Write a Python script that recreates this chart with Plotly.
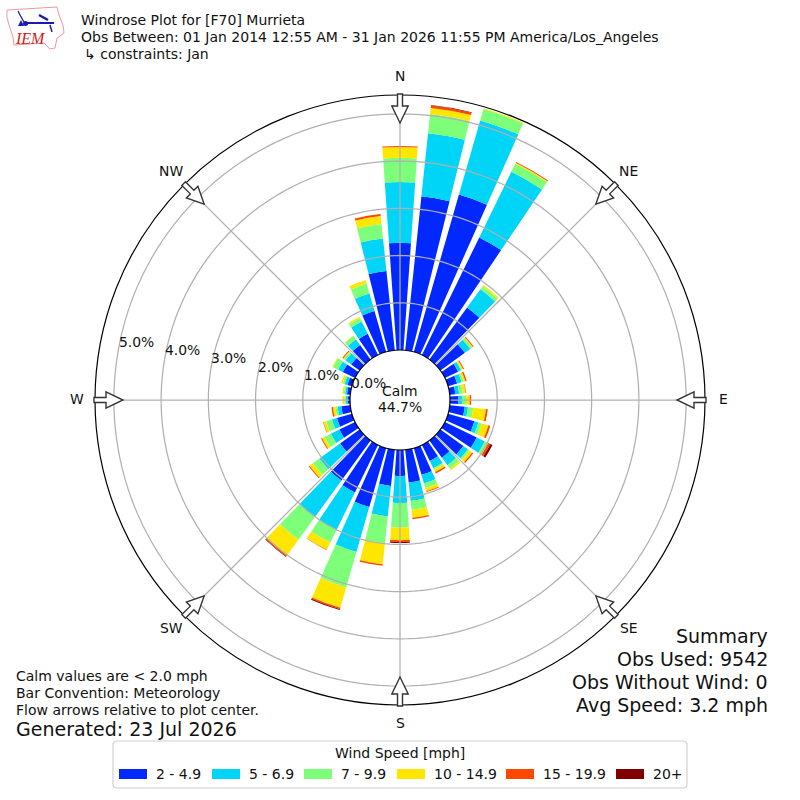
import numpy as np
import plotly.graph_objects as go

directions = list(range(0, 360, 10))
speed_2_5 = [2.27, 3.28, 3.47, 2.77, 1.36, .64, .31, .20, .12, .18, .32, .58, .75, .60, .45, .38, .59, .70,
             .55, .77, 1.30, 1.12, 1.05, .51, .37, .33, .19, .05, .07, .10, .29, .22, .38, .50, .90, 1.69]
speed_5_7 = [1.29, 1.34, 1.63, 1.55, .48, .14, .07, .10, .08, .08, .07, .09, .19, .12, .20, .17, .19, .39,
             .57, .65, .99, .88, .95, .54, .20, .11, .08, .04, .04, .06, .11, .15, .15, .29, .39, .69]
speed_7_10 = [.51, .41, .25, .19, .08, .05, .02, .04, .08, .08, .11, .07, .06, .04, .09, .03, .10, .19,
              .52, .57, .78, .30, .60, .17, .15, .13, .05, .03, .03, .04, .12, .04, .09, .08, .21, .31]
speed_10_15 = [.23, .13, .02, .02, .03, .02, .03, .04, .06, .08, .27, .15, .02, .07, .04, .06, .07, .17,
               .27, .45, .45, .17, .41, .09, .06, .06, .05, .04, .03, .04, .02, .02, .01, .03, .08, .17]
speed_15_20 = [.02, .05, 0, .02, 0, .02, .02, .03, .01, .03, .04, .04, .05, .03, 0, .03, .02, .03,
               .04, .03, .03, .01, .03, .02, .02, .01, .03, 0, 0, 0, 0, .02, 0, 0, 0, .04]
speed_20 = [0, .01, 0, 0, 0, 0, 0, 0, 0, 0, 0, 0, .05, 0, 0, 0, 0, 0,
            .02, 0, .02, 0, .01, 0, 0, 0, 0, 0, 0, 0, 0, 0, 0, 0, 0, 0]

series = [speed_2_5, speed_5_7, speed_7_10, speed_10_15, speed_15_20, speed_20]
labels = ["2 - 4.9", "5 - 6.9", "7 - 9.9", "10 - 14.9", "15 - 19.9", "20+"]
colors = ["#0028ff", "#00d5f7", "#7dff7a", "#ffe600", "#ff4700", "#800000"]
legend_x = [119, 212, 304, 397, 506, 616]

ring_ticks = [1, 2, 3, 4, 5]
radial_ticks = [0, 1, 2, 3, 4, 5]
compass_names = ["N", "NE", "E", "SE", "S", "SW", "W", "NW"]
compass_angles = [0, 45, 90, 135, 180, 225, 270, 315]

RMAX = 5.4
CX, CY, R = 400, 400, 305
GRID = "#b0b0b0"
LOGO_BLUE = "#1a1ab0"


def px(x):
    return x / 800


def py(y):
    return 1 - y / 800


def note(x, y, text, size=13.9, anchor="left"):
    # annotations carry about 2px of padding
    shift = {"left": -2, "right": 2, "center": 0}[anchor]
    return dict(x=px(x + shift), y=py(y), xref="paper", yref="paper", text=text, showarrow=False,
                xanchor=anchor, yanchor="middle", align=anchor,
                font=dict(family="DejaVu Sans", size=size, color="#111111"))


def paper_path(points, close=True):
    parts = [f"{px(x):.5f},{py(y):.5f}" for x, y in points]
    return "M" + "L".join(parts) + ("Z" if close else "")


fig = go.Figure()
for name, vals, col in zip(labels, series, colors):
    fig.add_trace(go.Barpolar(r=vals, theta=directions, width=8, name=name,
                              marker=dict(color=col, line=dict(width=0)), hoverinfo="skip"))

# the grid sits over the bars in the original, so it is drawn as traces
ring_theta = np.arange(0, 361, 2)
for t in ring_ticks:
    fig.add_trace(go.Scatterpolar(r=[t] * len(ring_theta), theta=ring_theta, mode="lines",
                                  line=dict(color=GRID, width=1.25), hoverinfo="skip", showlegend=False))
for a in compass_angles:
    fig.add_trace(go.Scatterpolar(r=[0, RMAX], theta=[a, a], mode="lines",
                                  line=dict(color=GRID, width=1.25), hoverinfo="skip", showlegend=False))

annotations = []
shapes = []

# flow arrows pointing to the center
arrow = [(-2.5, 306), (-2.5, 294), (-8.2, 294), (0, 277), (8.2, 294), (2.5, 294), (2.5, 306)]
for a, name in zip(compass_angles, compass_names):
    s, c = np.sin(np.radians(a)), np.cos(np.radians(a))
    pts = [(CX + r * s + w * c, CY - r * c + w * s) for w, r in arrow]
    shapes.append(dict(type="path", xref="paper", yref="paper", path=paper_path(pts),
                       fillcolor="white", line=dict(color="#333333", width=1.4), layer="above"))
    annotations.append(note(CX + 323.5 * s, CY - 323.5 * c - 0.7, name, anchor="center"))

# radial labels
for t in radial_ticks:
    annotations.append(note(368 - 46.4 * t, 383 - 8.2 * t, f"{t:.1f}%", anchor="center"))

annotations += [
    note(400, 391, "Calm", anchor="center"),
    note(400, 407, "44.7%", anchor="center"),
    note(81, 20, "Windrose Plot for [F70] Murrieta", 14),
    note(81, 37, "Obs Between: 01 Jan 2014 12:55 AM - 31 Jan 2026 11:55 PM America/Los_Angeles", 14),
    note(84, 54, "↳ constraints: Jan", 14),
    note(16, 676, "Calm values are &lt; 2.0 mph", 14),
    note(16, 693, "Bar Convention: Meteorology", 14),
    note(16, 710, "Flow arrows relative to plot center.", 14),
    note(16, 729, "Generated: 23 Jul 2026", 19),
    note(768, 636, "Summary", 19, "right"),
    note(768, 659, "Obs Used: 9542", 19, "right"),
    note(768, 682, "Obs Without Wind: 0", 19, "right"),
    note(768, 705, "Avg Speed: 3.2 mph", 19, "right"),
    note(400, 753, "Wind Speed [mph]", 14, "center"),
]

# legend box and entries
box = (f"M{px(117)},{py(741)}L{px(683)},{py(741)}Q{px(687)},{py(741)} {px(687)},{py(745)}"
       f"L{px(687)},{py(784)}Q{px(687)},{py(788)} {px(683)},{py(788)}L{px(117)},{py(788)}"
       f"Q{px(113)},{py(788)} {px(113)},{py(784)}L{px(113)},{py(745)}Q{px(113)},{py(741)} {px(117)},{py(741)}Z")
shapes.append(dict(type="path", xref="paper", yref="paper", path=box, fillcolor="white",
                   line=dict(color="#d0d0d0", width=1.2)))
for x, name, col in zip(legend_x, labels, colors):
    shapes.append(dict(type="rect", xref="paper", yref="paper", x0=px(x), x1=px(x + 28),
                       y0=py(779), y1=py(769), fillcolor=col, line=dict(width=0)))
    annotations.append(note(x + 37, 774, name, 14))

# IEM logo
iowa = [(7, 10), (57, 7), (59, 15), (63, 25), (64, 33), (57, 38), (55, 48), (50, 49),
        (44, 43), (14, 45), (13, 37), (10, 28), (7, 18)]
shapes.append(dict(type="path", xref="paper", yref="paper", path=paper_path(iowa),
                   fillcolor="white", line=dict(color="#ee9999", width=1)))
for seg, w in [([(18, 11), (20, 15), (24, 22)], 1.3), ([(25, 23), (54, 23)], 2),
               ([(39, 15), (48, 20)], 2.5), ([(50, 25), (52, 32)], 1.5)]:
    shapes.append(dict(type="path", xref="paper", yref="paper", path=paper_path(seg, close=False),
                       line=dict(color=LOGO_BLUE, width=w)))
shapes.append(dict(type="path", xref="paper", yref="paper", path=paper_path([(21, 20), (18, 26), (24, 26)]),
                   fillcolor=LOGO_BLUE, line=dict(width=0)))
shapes.append(dict(type="circle", xref="paper", yref="paper", x0=px(23), x1=px(28),
                   y0=py(26), y1=py(21), fillcolor=LOGO_BLUE, line=dict(width=0)))
annotations.append(dict(x=px(30.5), y=py(38.5), xref="paper", yref="paper", text="<i>IEM</i>", showarrow=False,
                        xanchor="center", yanchor="middle",
                        font=dict(family="Liberation Serif", size=16, color="#d02020")))

fig.update_layout(
    width=800, height=800, margin=dict(l=0, r=0, t=0, b=0), autosize=False,
    paper_bgcolor="white", showlegend=False, annotations=annotations, shapes=shapes,
    polar=dict(
        domain=dict(x=[(CX - R) / 800, (CX + R) / 800], y=[(CX - R) / 800, (CX + R) / 800]),
        hole=50 / R, bgcolor="white", barmode="stack",
        radialaxis=dict(range=[0, RMAX], showgrid=False, showline=False, showticklabels=False, ticks=""),
        angularaxis=dict(direction="clockwise", rotation=90, showgrid=False, showticklabels=False,
                         ticks="", showline=True, linecolor="black", linewidth=1.2),
    ),
)

fig.write_html("out.html", config={"displayModeBar": False},
               post_script="document.body.style.margin='0';")
